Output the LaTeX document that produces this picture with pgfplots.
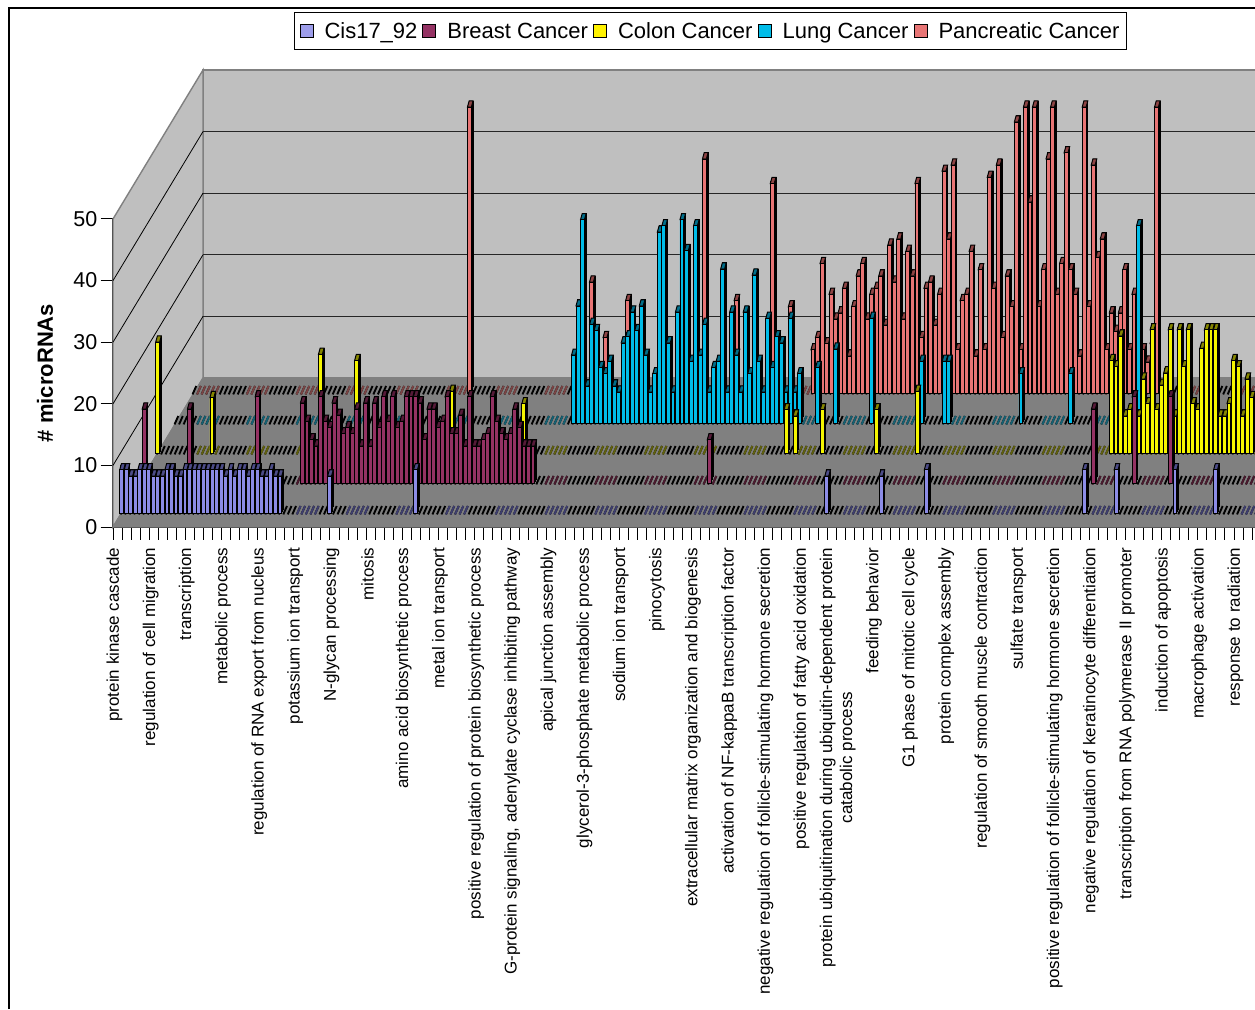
\documentclass[border=0pt]{standalone}
\usepackage{pgfplots}
\usepackage{pgfplotstable}
\usepackage{fontspec}
\setmainfont{Liberation Sans}
\pgfplotsset{compat=1.18}
\definecolor{cCis}{HTML}{8C8CE6}
\definecolor{cBre}{HTML}{943263}
\definecolor{cCol}{HTML}{F5F500}
\definecolor{cLun}{HTML}{00BCE8}
\definecolor{cPan}{HTML}{E87575}
\definecolor{kCis}{HTML}{4C4C88}
\definecolor{kBre}{HTML}{561A38}
\definecolor{kCol}{HTML}{868600}
\definecolor{kLun}{HTML}{006E8A}
\definecolor{kPan}{HTML}{8E4444}
\definecolor{bCis}{HTML}{3E3E6E}
\definecolor{bBre}{HTML}{4A1A2E}
\definecolor{bCol}{HTML}{60600E}
\definecolor{bLun}{HTML}{156072}
\definecolor{bPan}{HTML}{7A4444}
\pgfdeclareplotmark{zb}{\pgfpathmoveto{\pgfqpoint{-1.1pt}{-1.4pt}}\pgfpathlineto{\pgfqpoint{2.6pt}{7pt}}\pgfusepathqstroke}
\pgfdeclareplotmark{cap}{\pgfpathmoveto{\pgfqpoint{-1.95pt}{0pt}}\pgfpathlineto{\pgfqpoint{1.95pt}{0pt}}\pgfpathlineto{\pgfqpoint{3.65pt}{6.2pt}}\pgfpathlineto{\pgfqpoint{-0.25pt}{6.2pt}}\pgfpathclose\pgfusepathqfillstroke}
\pgfplotstableread{
x y
0 7
1 7
2 6
3 6
4 7
5 7
6 7
7 6
8 6
9 6
10 7
11 7
12 6
13 6
14 7
15 7
16 7
17 7
18 7
19 7
20 7
21 7
22 7
23 6
24 7
25 6
26 7
27 7
28 6
29 7
30 7
31 6
32 6
33 7
34 6
35 6
46 6
65 7
156 6
168 6
178 7
213 7
220 7
233 7
242 7
}\tCis
\pgfplotstableread{
x y
1 12
11 12
26 14
36 13
37 10
38 7
39 6
40 14
41 10
42 9
43 13
44 11
45 8
46 9
47 8
48 12
49 6
50 13
51 6
52 13
53 9
54 14
55 10
56 14
57 9
58 10
59 14
60 14
61 14
62 13
63 7
64 12
65 12
66 9
67 10
68 14
69 8
70 8
71 11
72 6
73 14
74 6
75 6
76 7
77 8
78 14
79 10
80 8
81 7
82 8
83 12
84 9
85 6
86 6
87 6
126 7
211 12
220 14
228 14
}\tBre
\pgfplotstableread{
x y
0 18
12 9
36 16
44 15
65 10
81 8
139 7
141 6
147 7
159 7
168 10
211 15
212 14
213 19
214 6
215 7
216 6
217 6
218 12
219 8
220 20
221 7
222 11
223 13
224 20
225 6
226 20
227 14
228 20
229 8
230 7
231 17
232 20
233 20
234 20
235 6
236 6
237 8
238 15
239 14
240 6
241 12
242 9
}\tCol
\pgfplotstableread{
x y
88 11
89 19
90 33
91 6
92 16
93 15
94 9
95 8
96 10
97 6
98 5
99 13
100 14
101 18
102 15
103 19
104 11
105 5
106 8
107 31
108 32
109 13
110 5
111 18
112 33
113 28
114 10
115 32
116 11
117 16
118 5
119 9
120 10
121 25
122 5
123 18
124 11
125 5
126 18
127 8
128 24
129 10
130 5
131 17
132 9
133 14
134 13
135 5
136 17
137 5
138 8
142 9
146 12
154 17
165 10
170 10
171 10
187 8
198 8
213 32
}\tLun
\pgfplotstableread{
x y
61 46.4
88 18
91 9
96 15
113 38
120 15
128 34
132 14
137 7
138 9
139 21
140 8
141 16
142 12
143 13
144 17
145 6
146 14
147 19
148 21
149 12
150 16
151 17
152 19
153 11
154 24
155 18
156 25
157 12
158 23
159 19
160 34
161 9
162 17
163 18
164 11
165 16
166 36
167 25
168 37
169 7
170 15
171 16
172 23
173 6
174 20
175 7
176 35
177 17
178 37
179 9
180 19
181 14
182 44
183 7
184 46.4
185 31
186 46.4
187 14
188 20
189 38
190 46.4
191 16
192 21
193 39
194 20
195 16
196 6
197 46.4
198 14
199 37
200 22
201 25
202 7
203 13
204 10
205 13
206 20
207 7
208 16
209 5
210 7
211 5
212 8
213 46.4
}\tPan
\pgfplotstableread[row sep=\\]{
x y\\0 0\\1 0\\2 0\\3 0\\4 0\\5 0\\6 0\\7 0\\8 0\\9 0\\10 0\\11 0\\12 0\\13 0\\14 0\\15 0\\16 0\\17 0\\18 0\\19 0\\20 0\\21 0\\22 0\\23 0\\24 0\\25 0\\26 0\\27 0\\28 0\\29 0\\30 0\\31 0\\32 0\\33 0\\34 0\\35 0\\36 0\\37 0\\38 0\\39 0\\40 0\\41 0\\42 0\\43 0\\44 0\\45 0\\46 0\\47 0\\48 0\\49 0\\50 0\\51 0\\52 0\\53 0\\54 0\\55 0\\56 0\\57 0\\58 0\\59 0\\60 0\\61 0\\62 0\\63 0\\64 0\\65 0\\66 0\\67 0\\68 0\\69 0\\70 0\\71 0\\72 0\\73 0\\74 0\\75 0\\76 0\\77 0\\78 0\\79 0\\80 0\\81 0\\82 0\\83 0\\84 0\\85 0\\86 0\\87 0\\88 0\\89 0\\90 0\\91 0\\92 0\\93 0\\94 0\\95 0\\96 0\\97 0\\98 0\\99 0\\100 0\\101 0\\102 0\\103 0\\104 0\\105 0\\106 0\\107 0\\108 0\\109 0\\110 0\\111 0\\112 0\\113 0\\114 0\\115 0\\116 0\\117 0\\118 0\\119 0\\120 0\\121 0\\122 0\\123 0\\124 0\\125 0\\126 0\\127 0\\128 0\\129 0\\130 0\\131 0\\132 0\\133 0\\134 0\\135 0\\136 0\\137 0\\138 0\\139 0\\140 0\\141 0\\142 0\\143 0\\144 0\\145 0\\146 0\\147 0\\148 0\\149 0\\150 0\\151 0\\152 0\\153 0\\154 0\\155 0\\156 0\\157 0\\158 0\\159 0\\160 0\\161 0\\162 0\\163 0\\164 0\\165 0\\166 0\\167 0\\168 0\\169 0\\170 0\\171 0\\172 0\\173 0\\174 0\\175 0\\176 0\\177 0\\178 0\\179 0\\180 0\\181 0\\182 0\\183 0\\184 0\\185 0\\186 0\\187 0\\188 0\\189 0\\190 0\\191 0\\192 0\\193 0\\194 0\\195 0\\196 0\\197 0\\198 0\\199 0\\200 0\\201 0\\202 0\\203 0\\204 0\\205 0\\206 0\\207 0\\208 0\\209 0\\210 0\\211 0\\212 0\\213 0\\214 0\\215 0\\216 0\\217 0\\218 0\\219 0\\220 0\\221 0\\222 0\\223 0\\224 0\\225 0\\226 0\\227 0\\228 0\\229 0\\230 0\\231 0\\232 0\\233 0\\234 0\\235 0\\236 0\\237 0\\238 0\\239 0\\240 0\\241 0\\242 0\\243 0\\244 0\\245 0\\246 0\\247 0\\248 0\\249 0\\250 0\\251 0\\252 0\\
}\tZero
\pgfplotstableread[row sep=\\]{
x y\\17 0\\18 0\\19 0\\20 0\\21 0\\28 0\\29 0\\30 0\\31 0\\32 0\\39 0\\40 0\\41 0\\42 0\\43 0\\50 0\\51 0\\52 0\\53 0\\54 0\\61 0\\62 0\\63 0\\64 0\\65 0\\72 0\\73 0\\74 0\\75 0\\76 0\\83 0\\84 0\\85 0\\86 0\\87 0\\94 0\\95 0\\96 0\\97 0\\98 0\\105 0\\106 0\\107 0\\108 0\\109 0\\116 0\\117 0\\118 0\\119 0\\120 0\\127 0\\128 0\\129 0\\130 0\\131 0\\138 0\\139 0\\140 0\\141 0\\142 0\\149 0\\150 0\\151 0\\152 0\\153 0\\160 0\\161 0\\162 0\\163 0\\164 0\\171 0\\172 0\\173 0\\174 0\\175 0\\182 0\\183 0\\184 0\\185 0\\186 0\\193 0\\194 0\\195 0\\196 0\\197 0\\204 0\\205 0\\206 0\\207 0\\208 0\\215 0\\216 0\\217 0\\218 0\\219 0\\226 0\\227 0\\228 0\\229 0\\230 0\\237 0\\238 0\\239 0\\240 0\\241 0\\248 0\\249 0\\250 0\\251 0\\252 0\\
}\tBand
% #1 table, #2 front, #3 cap, #4 band colour, #5 x shift, #6 y shift, #7 x shift of band
\newcommand{\series}[7]{%
  \addplot[forget plot,only marks,mark=zb,mark options={draw=black,line width=1.9pt},xshift=#5pt,yshift=#6pt] table[x=x,y=y]{\tZero};
  \addplot[forget plot,only marks,mark=zb,mark options={draw=#4,line width=1.9pt},xshift=#7pt,yshift=#6pt] table[x=x,y=y]{\tBand};
  \addplot[forget plot,ybar,bar width=3.9pt,bar shift=0pt,fill=black,draw=black,line width=.7pt,xshift={#5pt+0.55pt},yshift={#6pt+2pt}] table[x=x,y=y]{#1};
  \addplot[forget plot,ybar,bar width=3.9pt,bar shift=0pt,fill=black,draw=black,line width=.7pt,xshift={#5pt+1.1pt},yshift={#6pt+4.1pt}] table[x=x,y=y]{#1};
  \addplot[forget plot,ybar,bar width=3.9pt,bar shift=0pt,fill=black,draw=black,line width=.7pt,xshift={#5pt+1.7pt},yshift={#6pt+6.2pt}] table[x=x,y=y]{#1};
  \addplot[forget plot,only marks,mark=cap,mark options={draw=black,fill=#3,line width=1pt},xshift=#5pt,yshift=#6pt] table[x=x,y=y]{#1};
  \addplot[forget plot,ybar,bar width=3.9pt,bar shift=0pt,fill=#2,draw=black,line width=.8pt,xshift=#5pt,yshift=#6pt] table[x=x,y=y]{#1};
}
\begin{document}
\begin{tikzpicture}[x=1pt,y=1pt]
\path[use as bounding box] (0,0) rectangle (1255,1009);
\fill[white] (0,0) rectangle (1255,1009);
\begin{axis}[
  at={(113pt,482pt)},anchor=south west,
  scale only axis,width=1142pt,height=308pt,
  xmin=-0.5,xmax=252.15,ymin=0,ymax=50,
  clip=false,clip mode=individual,
  axis x line*=bottom,axis y line*=left,
  axis line style={line width=1.2pt,-},
  xtick={-0.5,7.5,...,251},
  minor xtick={1.5,3.5,...,251},
  ytick={0,10,...,50},
  tick align=outside,
  major tick length=12.5pt,minor tick length=12.5pt,
  every tick/.style={black,line width=1pt},
  ytick style={black,line width=1pt},
  /pgf/number format/assume math mode=true,
  yticklabel style={font=\fontsize{21.5}{25}\selectfont,inner sep=3pt},
  xticklabel style={font=\fontsize{17}{20}\selectfont,rotate=90,anchor=east,align=center,inner sep=0pt,xshift=-8pt,yshift=-1.5pt},
  xticklabels={protein kinase cascade,regulation of cell migration,transcription,metabolic process,regulation of RNA export from nucleus,potassium ion transport,N-glycan processing,mitosis,amino acid biosynthetic process,metal ion transport,positive regulation of protein biosynthetic process,{G-protein signaling, adenylate cyclase inhibiting pathway},apical junction assembly,glycerol-3-phosphate metabolic process,sodium ion transport,pinocytosis,extracellular matrix organization and biogenesis,activation of NF-kappaB transcription factor,negative regulation of follicle-stimulating hormone secretion,positive regulation of fatty acid oxidation,{protein ubiquitination during ubiquitin-dependent protein\\catabolic process},feeding behavior,G1 phase of mitotic cell cycle,protein complex assembly,regulation of smooth muscle contraction,sulfate transport,positive regulation of follicle-stimulating hormone secretion,negative regulation of keratinocyte differentiation,transcription from RNA polymerase II promoter,induction of apoptosis,macrophage activation,response to radiation},
  ylabel={\bfseries \# microRNAs},
  every axis y label/.style={at={(axis description cs:-0.0595,0.5)},rotate=90,anchor=center,font=\fontsize{22}{26}\selectfont},
  legend columns=-1,
  legend cell align=left,
  legend image code/.code={\draw[#1,line width=1pt] (0pt,-6pt) rectangle (13pt,7pt);},
  legend style={at={(axis description cs:0.1585,1.672)},anchor=north west,draw=black,line width=1pt,font=\fontsize{22}{26}\selectfont,inner xsep=5pt,inner ysep=8pt,
    /tikz/every even column/.append style={column sep=3pt},
    /tikz/every odd column/.append style={column sep=9pt}},
]
\addlegendimage{fill=cCis!85!white,draw=black}\addlegendentry{Cis17\_92}
\addlegendimage{fill=cBre,draw=black}\addlegendentry{Breast Cancer}
\addlegendimage{fill=yellow,draw=black}\addlegendentry{Colon Cancer}
\addlegendimage{fill=cLun,draw=black}\addlegendentry{Lung Cancer}
\addlegendimage{fill=cPan,draw=black}\addlegendentry{Pancreatic Cancer}
% walls and floor
\addplot[forget plot,fill=black!25,draw=black!50,line width=1.4pt,xshift=90pt,yshift=149pt] coordinates {(-0.5,0)(252.15,0)(252.15,50)(-0.5,50)} --cycle;
\addplot[forget plot,fill=black!25,draw=black!50,line width=1.4pt] coordinates {(-0.5,0)(-0.5,50)(19.41,74.19)(19.41,24.19)} --cycle;
\addplot[forget plot,fill=black!50,draw=black!50,line width=1pt] coordinates {(-0.5,0)(19.41,24.19)(252.15,24.19)(252.15,0)} --cycle;
\addplot[forget plot,black!85,line width=1pt,xshift=90pt,yshift=149pt] coordinates {(-0.5,10)(252.15,10)};
\addplot[forget plot,black!85,line width=1pt,xshift=90pt,yshift=149pt] coordinates {(-0.5,20)(252.15,20)};
\addplot[forget plot,black!85,line width=1pt,xshift=90pt,yshift=149pt] coordinates {(-0.5,30)(252.15,30)};
\addplot[forget plot,black!85,line width=1pt,xshift=90pt,yshift=149pt] coordinates {(-0.5,40)(252.15,40)};
\addplot[forget plot,black,line width=.8pt] coordinates {(-0.5,10)(19.41,34.19)};
\addplot[forget plot,black,line width=.8pt] coordinates {(-0.5,20)(19.41,44.19)};
\addplot[forget plot,black,line width=.8pt] coordinates {(-0.5,30)(19.41,54.19)};
\addplot[forget plot,black,line width=.8pt] coordinates {(-0.5,40)(19.41,64.19)};
% series, back to front
\series{\tPan}{cPan}{kPan}{bPan}{78.4}{134}{6.1}
\series{\tLun}{cLun}{kLun}{bLun}{60.4}{104}{6.2}
\series{\tCol}{cCol}{kCol}{bCol}{42.4}{74}{6.2}
\series{\tBre}{cBre}{kBre}{bBre}{24.4}{44}{6.3}
\series{\tCis}{cCis}{kCis}{bCis}{6.4}{14}{6.4}
\end{axis}
\draw[black,line width=1.3pt] (9,0) -- (9,1001) -- (1255,1001);
\end{tikzpicture}
\end{document}
